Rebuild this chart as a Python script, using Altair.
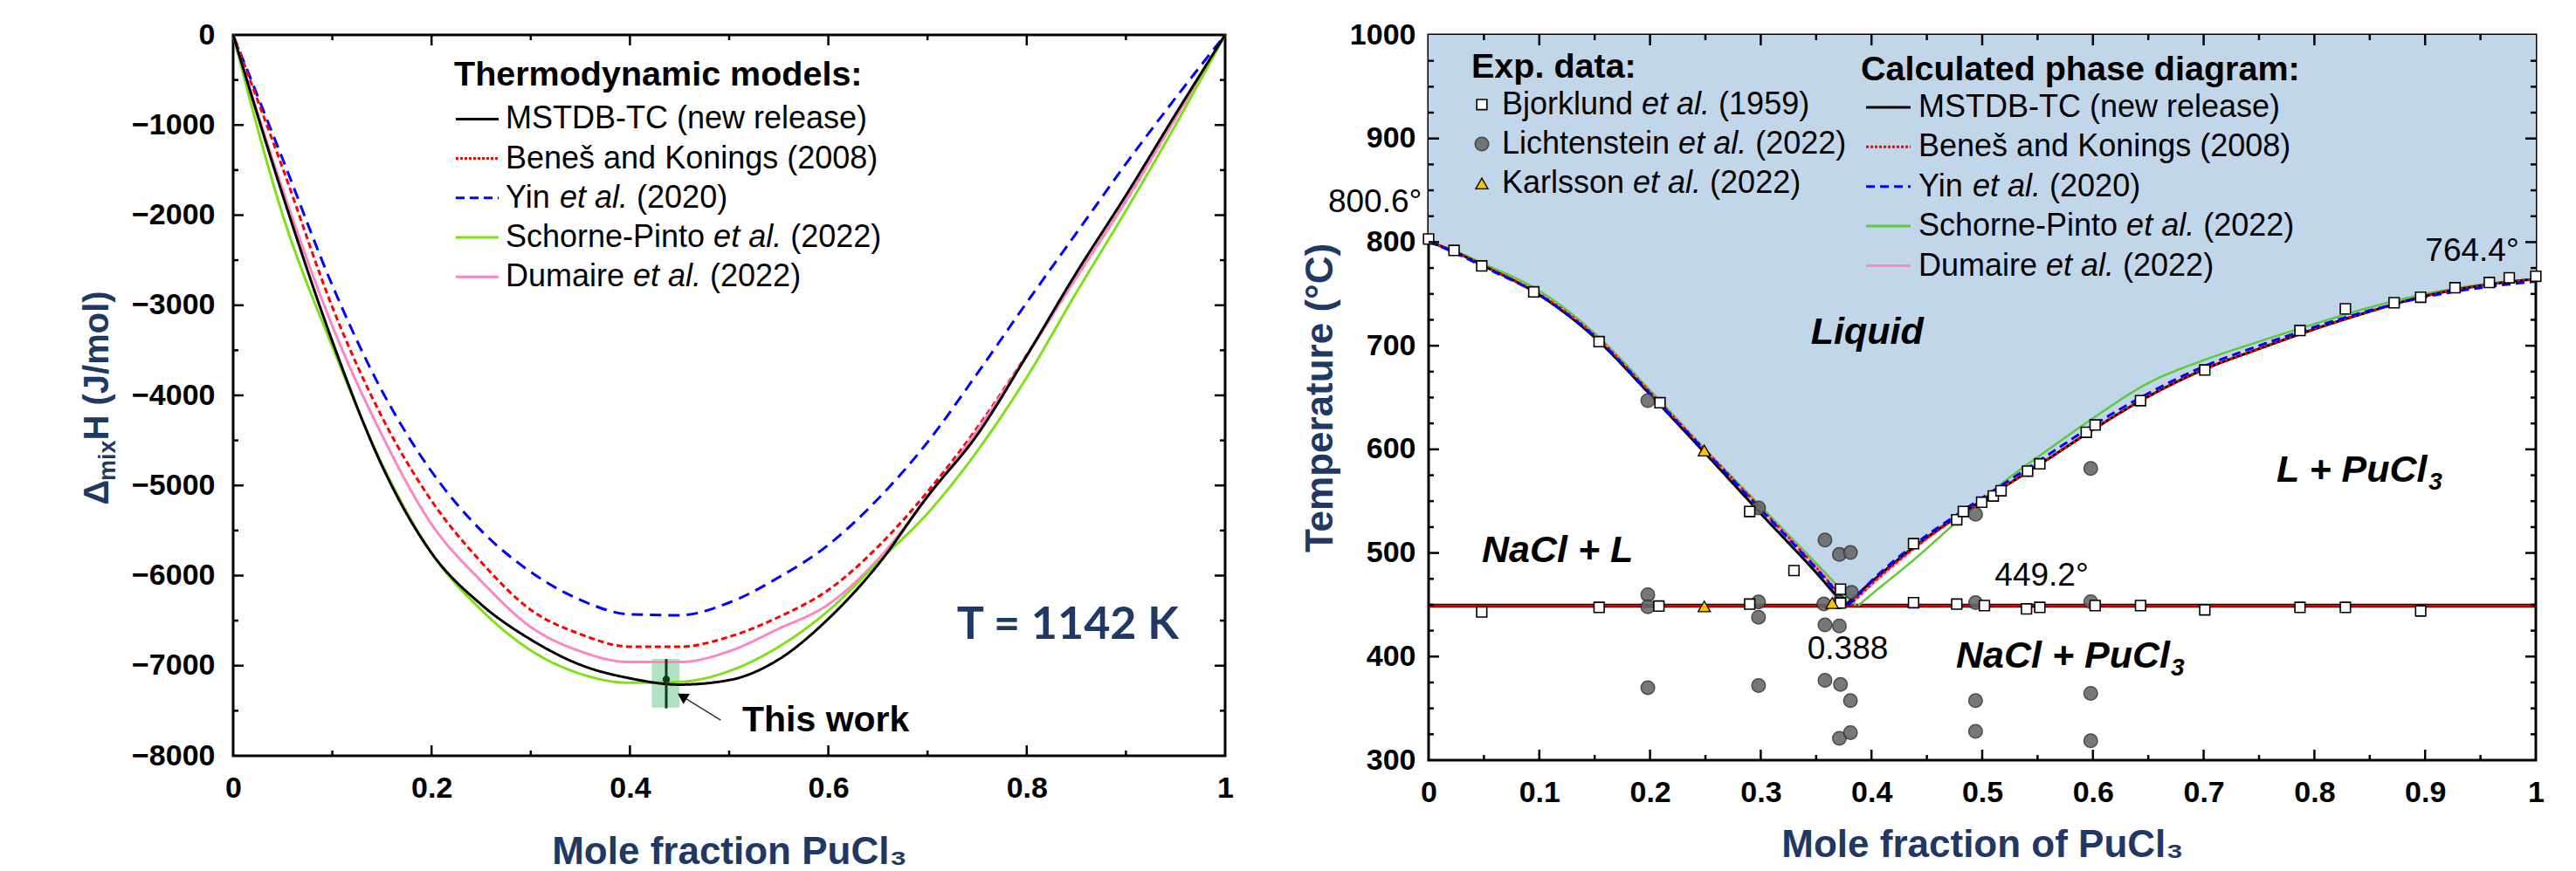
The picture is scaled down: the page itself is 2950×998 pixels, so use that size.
import math
import altair as alt
import pandas as pd

FONT = "Liberation Sans"
NAVY = "#1F3864"

# ======================= LEFT PANEL DATA (J/mol, T = 1142 K) =======================
x_mix = [0, 0.05, 0.1, 0.15, 0.2, 0.25, 0.3, 0.35, 0.4, 0.45, 0.5,
         0.55, 0.6, 0.65, 0.7, 0.75, 0.8, 0.85, 0.9, 0.95, 1.0]
h_mstdb = [0, -1780, -3400, -4780, -5750, -6320, -6710, -6990, -7140, -7210, -7160,
           -6930, -6480, -5880, -5120, -4440, -3560, -2640, -1780, -880, 0]
h_benes = [0, -1480, -3020, -4240, -5170, -5850, -6380, -6650, -6790, -6790, -6680,
           -6460, -6160, -5680, -5070, -4360, -3550, -2690, -1840, -920, 0]
h_yin = [0, -1380, -2780, -3950, -4845, -5500, -5960, -6270, -6430, -6440, -6300,
         -6020, -5660, -5150, -4520, -3760, -2970, -2200, -1430, -700, 0]
h_schorne = [0, -2000, -3460, -4760, -5750, -6380, -6830, -7090, -7190, -7180, -7060,
             -6790, -6390, -5850, -5310, -4620, -3800, -2860, -1950, -1000, 0]
h_dumaire = [0, -1720, -3230, -4440, -5430, -6060, -6570, -6840, -6960, -6960, -6840,
             -6590, -6320, -5820, -5130, -4390, -3560, -2690, -1840, -920, 0]

# "This work" measurement
tw_x = [0.4366]
tw_h = [-7152]
tw_err_lo = [-7474]
tw_err_hi = [-6926]
tw_band_x = [0.422, 0.450]
tw_band_h = [-7465, -6926]
arrow_tail = [0.4915, -7604]
arrow_tip = [0.4474, -7304]

# ======================= RIGHT PANEL DATA (phase diagram, deg C) =======================
eutectic_T = 449.2
liq_nacl_x = {
    "mstdb":   [0, 0.025, 0.05, 0.1, 0.15, 0.2, 0.25, 0.3, 0.35, 0.376],
    "benes":   [0, 0.025, 0.05, 0.1, 0.15, 0.2, 0.25, 0.3, 0.35, 0.380],
    "yin":     [0, 0.025, 0.05, 0.1, 0.15, 0.2, 0.25, 0.3, 0.35, 0.379],
    "schorne": [0, 0.025, 0.05, 0.1, 0.15, 0.2, 0.25, 0.3, 0.35, 0.386],
    "dumaire": [0, 0.025, 0.05, 0.1, 0.15, 0.2, 0.25, 0.3, 0.35, 0.380],
}
liq_nacl_t = {
    "mstdb":   [800.6, 790, 777, 749, 708, 653, 596, 538, 481, 449.2],
    "benes":   [800.6, 790, 777, 750, 710, 655, 599, 543, 486, 449.2],
    "yin":     [800.6, 789, 776, 749, 709, 654, 598, 542, 485, 449.2],
    "schorne": [800.6, 791, 779, 753, 712, 657, 600, 545, 490, 449.2],
    "dumaire": [800.6, 790, 777, 750, 710, 655, 599, 543, 487, 449.2],
}
liq_pu_x = {
    "mstdb":   [0.376, 0.40, 0.44, 0.48, 0.52, 0.56, 0.60, 0.65, 0.70, 0.75, 0.80, 0.85, 0.90, 0.95, 1.0],
    "benes":   [0.380, 0.40, 0.44, 0.48, 0.52, 0.56, 0.60, 0.65, 0.70, 0.75, 0.80, 0.85, 0.90, 0.95, 1.0],
    "yin":     [0.379, 0.40, 0.44, 0.48, 0.52, 0.56, 0.60, 0.65, 0.70, 0.75, 0.80, 0.85, 0.90, 0.95, 1.0],
    "schorne": [0.388, 0.40, 0.44, 0.48, 0.52, 0.56, 0.60, 0.65, 0.70, 0.75, 0.80, 0.85, 0.90, 0.95, 1.0],
    "dumaire": [0.380, 0.40, 0.44, 0.48, 0.52, 0.56, 0.60, 0.65, 0.70, 0.75, 0.80, 0.85, 0.90, 0.95, 1.0],
}
liq_pu_t = {
    "mstdb":   [449.2, 472, 507, 537, 564, 591, 619, 651, 677, 697, 716, 733, 748, 758, 764.4],
    "benes":   [449.2, 470, 506, 537, 564, 591, 619, 651, 677, 697, 716, 733, 748, 758, 764.4],
    "yin":     [449.2, 473, 509, 539, 567, 595, 623, 654, 680, 700, 718, 734, 747, 756, 762.0],
    "schorne": [449.2, 460, 495, 533, 569, 600, 630, 664, 686, 704, 721, 737, 750, 759, 764.4],
    "dumaire": [449.2, 469, 505, 536, 564, 591, 619, 651, 677, 697, 716, 733, 748, 758, 764.4],
}

# Bjorklund et al. (1959)
bj_x = [0.0, 0.023, 0.048, 0.095, 0.154, 0.209, 0.290, 0.330, 0.372, 0.048, 0.154, 0.208, 0.290,
        0.372, 0.438, 0.438, 0.477, 0.477, 0.483, 0.4995, 0.502, 0.510, 0.517, 0.540, 0.541, 0.552,
        0.552, 0.594, 0.602, 0.602, 0.643, 0.643, 0.701, 0.701, 0.787, 0.787, 0.828, 0.828, 0.872,
        0.896, 0.896, 0.927, 0.958, 0.976, 1.0]
bj_t = [803, 792, 777, 752, 704, 645, 540, 483, 465, 443, 447.5, 448.7, 450.6,
        451.7, 509, 452, 532, 450.6, 540, 549, 449.2, 555, 560, 446, 579, 586,
        447.5, 616.5, 623.5, 449.2, 647, 449.2, 676.6, 445, 714.7, 447.5, 735.6, 447.5, 741.5,
        746.8, 444, 756, 761, 765.6, 767]
# Lichtenstein et al. (2022)
li_x = [0.198, 0.198, 0.198, 0.198, 0.298, 0.298, 0.298, 0.298, 0.358, 0.371, 0.381, 0.382,
        0.357, 0.371, 0.358, 0.371, 0.358, 0.372, 0.381, 0.371, 0.381, 0.494, 0.494, 0.494,
        0.494, 0.598, 0.598, 0.598, 0.598]
li_t = [647, 459.7, 448, 370, 543.4, 452.6, 438, 372, 512.5, 498.5, 500.4, 462,
        450.7, 452.6, 430.5, 429.6, 377, 373, 357.4, 321, 326.6, 537.3, 452, 357.4,
        327.7, 581.6, 452.9, 364.4, 318.8]
# Karlsson et al. (2022)
ka_x = [0.249, 0.249, 0.3645]
ka_t = [598.8, 448.4, 451.7]

# ======================= TEXT =======================
model_keys = ["mstdb", "benes", "yin", "schorne", "dumaire"]
model_label_segments = [
    [("MSTDB-TC (new release)", False)],
    [("Beneš and Konings (2008)", False)],
    [("Yin ", False), ("et al.", True), (" (2020)", False)],
    [("Schorne-Pinto ", False), ("et al.", True), (" (2022)", False)],
    [("Dumaire ", False), ("et al.", True), (" (2022)", False)],
]
exp_label_segments = [
    [("Bjorklund ", False), ("et al.", True), (" (1959)", False)],
    [("Lichtenstein ", False), ("et al.", True), (" (2022)", False)],
    [("Karlsson ", False), ("et al.", True), (" (2022)", False)],
]

# styles
COL = {"mstdb": "#000000", "benes": "#FF0000", "yin": "#0000FF", "schorne": "#7FE01A", "dumaire": "#FF85C2"}
COL_R = {"mstdb": "#000000", "benes": "#FF0000", "yin": "#0000FF", "schorne": "#5CCB3A", "dumaire": "#FF85C2"}
DASH_L = {"mstdb": [1, 0], "benes": [7, 4], "yin": [13, 8], "schorne": [1, 0], "dumaire": [1, 0]}
DASH_R = {"mstdb": [1, 0], "benes": [3, 3], "yin": [10, 6], "schorne": [1, 0], "dumaire": [1, 0]}
DASH_LEG = {"mstdb": [1, 0], "benes": [3, 2], "yin": [10, 6], "schorne": [1, 0], "dumaire": [1, 0]}

# ---------- Arial / Liberation Sans advance widths (1/1000 em) ----------
W_REG = {" ": 278, "(": 333, ")": 333, "-": 333, ".": 278, ":": 278, "+": 584, "°": 400, "/": 278, "š": 500}
for ch in "0123456789":
    W_REG[ch] = 556
W_REG.update(dict(A=667, B=667, C=722, D=722, E=667, F=611, G=778, H=722, I=278, J=500, K=667, L=556, M=833,
                  N=722, O=778, P=667, Q=778, R=722, S=667, T=611, U=722, V=667, W=944, X=667, Y=667, Z=611))
W_REG.update(dict(a=556, b=556, c=500, d=556, e=556, f=278, g=556, h=556, i=222, j=222, k=500, l=222, m=833,
                  n=556, o=556, p=556, q=556, r=333, s=500, t=278, u=556, v=500, w=722, x=500, y=500, z=500))
W_BOLD = dict(W_REG)
W_BOLD.update(dict(A=722, B=722, J=556, K=722, L=611))
W_BOLD.update(dict(b=611, c=556, d=611, f=333, g=611, h=611, i=278, j=278, k=556, l=278, m=889, n=611, o=611,
                   p=611, q=611, r=389, s=556, t=333, u=611, v=556, w=778, x=556, y=556))
W_BOLD[":"] = 333
W_BOLD["Δ"] = 690


def tw(s, size, bold=False):
    tbl = W_BOLD if bold else W_REG
    return sum(tbl.get(c, 556) for c in s) * size / 1000.0


ONE = pd.DataFrame({"d": [0]})


def txt(px, py, s, size, weight="normal", style="normal", color="black", align="left",
        baseline="middle", angle=0, font=FONT):
    mk = dict(text=s, font=font, fontSize=size, fontWeight=weight, fontStyle=style, color=color,
              align=align, baseline=baseline)
    if angle:
        mk["angle"] = angle
    return alt.Chart(ONE).mark_text(**mk).encode(x=alt.value(px), y=alt.value(py))


def rich(segments, x0, y, size, bold=False):
    layers = []
    off = 0.0
    for s, it in segments:
        lead = len(s) - len(s.lstrip())
        xs = x0 + off + tw(s[:lead], size, bold)
        layers.append(txt(xs, y, s.strip(), size, style="italic" if it else "normal"))
        off += tw(s, size, bold)
    return layers


def legend_lines(keys, colors, dashes, x1, x2, y0, dy, width=3):
    layers = []
    for i, k in enumerate(keys):
        y = y0 + i * dy
        layers.append(alt.Chart(ONE).mark_rule(color=colors[k], strokeWidth=width, strokeDash=dashes[k]).encode(
            x=alt.value(x1), x2=alt.value(x2), y=alt.value(y)))
    return layers


def tick_layers(X, Y, x_major, x_minor, y_major, y_minor, W, H, big=12, small=6):
    layers = []
    for vals, ln in ((x_major, big), (x_minor, small)):
        df = pd.DataFrame({"v": vals})
        for a, b in ((H, H - ln), (0, ln)):
            layers.append(alt.Chart(df).mark_rule(color="black", strokeWidth=2.5).encode(
                x=X("v:Q"), y=alt.value(a), y2=alt.value(b)))
    for vals, ln in ((y_major, big), (y_minor, small)):
        df = pd.DataFrame({"v": vals})
        for a, b in ((0, ln), (W, W - ln)):
            layers.append(alt.Chart(df).mark_rule(color="black", strokeWidth=2.5).encode(
                y=Y("v:Q"), x=alt.value(a), x2=alt.value(b)))
    return layers


# ======================= LEFT PANEL =======================
LW, LH = 1136, 826
LX0, LY0 = 270, 36
xs_L = alt.Scale(domain=[0, 1], nice=False, zero=False)
ys_L = alt.Scale(domain=[-8000, 0], nice=False, zero=False)
AX_LX = alt.Axis(values=[0, 0.2, 0.4, 0.6, 0.8, 1], format="~g", title="Mole fraction PuCl₃",
                 labelPadding=20, titlePadding=34, labelFlush=False)
AX_LY = alt.Axis(values=list(range(-8000, 1, 1000)), format="d", title=None, labelPadding=21, labelFlush=False)


def LXc(f):
    return alt.X(f, scale=xs_L, axis=AX_LX)


def LYc(f):
    return alt.Y(f, scale=ys_L, axis=AX_LY)


band_df = pd.DataFrame({"x0": [tw_band_x[0]], "x1": [tw_band_x[1]], "y0": [tw_band_h[0]], "y1": [tw_band_h[1]]})
band = alt.Chart(band_df).mark_rect(color="#8ED6A8", opacity=0.7).encode(
    x=LXc("x0:Q"), x2="x1:Q", y=LYc("y0:Q"), y2="y1:Q")

mix_df = pd.DataFrame({"x": x_mix, "mstdb": h_mstdb, "benes": h_benes, "yin": h_yin,
                       "schorne": h_schorne, "dumaire": h_dumaire})
left_lines = []
for k in ["yin", "benes", "dumaire", "schorne", "mstdb"]:
    left_lines.append(alt.Chart(mix_df).mark_line(color=COL[k], strokeWidth=3, strokeDash=DASH_L[k],
                                                  interpolate="monotone").encode(
        x=LXc("x:Q"), y=LYc(f"{k}:Q")))

err_df = pd.DataFrame({"x": tw_x, "lo": tw_err_lo, "hi": tw_err_hi, "h": tw_h})
err = alt.Chart(err_df).mark_rule(color="#123a1f", strokeWidth=3).encode(
    x=LXc("x:Q"), y=LYc("lo:Q"), y2="hi:Q")
errpt = alt.Chart(err_df).mark_point(filled=True, color="#123a1f", size=70, opacity=1).encode(
    x=LXc("x:Q"), y=LYc("h:Q"))

# arrow pointing at "This work"
ddx = (arrow_tip[0] - arrow_tail[0]) * LW
ddy = -(arrow_tip[1] - arrow_tail[1]) / 8000 * LH
dist = (ddx ** 2 + ddy ** 2) ** 0.5
ux, uy = ddx / dist, ddy / dist
back = 7.0
head_x = arrow_tip[0] - back * ux / LW
head_h = arrow_tip[1] + back * uy * 8000 / LH
ang = math.degrees(math.atan2(ux, -uy)) % 360
arr_df = pd.DataFrame({"x": [arrow_tail[0]], "x2": [head_x], "h": [arrow_tail[1]], "h2": [head_h]})
arrow_line = alt.Chart(arr_df).mark_rule(color="#333333", strokeWidth=1.5).encode(
    x=LXc("x:Q"), x2="x2:Q", y=LYc("h:Q"), y2="h2:Q")
arrow_head = alt.Chart(arr_df).mark_point(shape="triangle-up", filled=True, color="black", size=190,
                                          opacity=1, angle=ang).encode(
    x=LXc("x2:Q"), y=LYc("h2:Q"))

this_work_txt = txt(853 - LX0, 821.7 - LY0, "This work", 41, weight="bold")
tk_txt = txt(1225.8 - LX0, 711.7 - LY0, "T = 1142 K", 52, weight="bold", color=NAVY, align="center", font="Lato")

# legend (left)
L_FS = 36
LT_FS = 39.5
leg_L = [txt(523 - LX0, 81.5 - LY0, "Thermodynamic models:", LT_FS, weight="bold")]
leg_L += legend_lines(model_keys, COL, DASH_LEG, 525 - LX0, 574 - LX0, 132.4 - LY0, 45.2)
for i, segs in enumerate(model_label_segments):
    leg_L += rich(segs, 582 - LX0, 132.4 - LY0 + i * 45.2, L_FS)

# y-axis title with subscript (rotated text pieces)
YT = 40
ysub = 27
title_len = tw("Δ", YT, True) + tw("mix", ysub, True) + tw("H (J/mol)", YT, True)
y_start = 452 + title_len / 2 - LY0
xb = 127 - LX0
ytitle = [
    txt(xb, y_start, "Δ", YT, weight="bold", color=NAVY, baseline="alphabetic", angle=270),
    txt(xb + 8, y_start - tw("Δ", YT, True), "mix", ysub, weight="bold", color=NAVY,
        baseline="alphabetic", angle=270),
    txt(xb, y_start - tw("Δ", YT, True) - tw("mix", ysub, True), "H (J/mol)", YT, weight="bold",
        color=NAVY, baseline="alphabetic", angle=270),
]

ticks_L = tick_layers(LXc, LYc, [0.2, 0.4, 0.6, 0.8], [0.1, 0.3, 0.5, 0.7, 0.9],
                      list(range(-7000, 0, 1000)), list(range(-7500, 0, 1000)), LW, LH)

left = alt.layer(band, *left_lines, err, errpt, arrow_line, arrow_head, this_work_txt, tk_txt,
                 *leg_L, *ytitle, *ticks_L).properties(width=LW, height=LH)

# ======================= RIGHT PANEL =======================
RW, RH = 1268, 831
RX0, RY0 = 1635, 38
xs_R = alt.Scale(domain=[0, 1], nice=False, zero=False)
ys_R = alt.Scale(domain=[300, 1000], nice=False, zero=False)
AX_RX = alt.Axis(values=[0, 0.1, 0.2, 0.3, 0.4, 0.5, 0.6, 0.7, 0.8, 0.9, 1], format="~g",
                 title="Mole fraction of PuCl₃", labelPadding=20, titlePadding=21, labelFlush=False)
AX_RY = alt.Axis(values=list(range(300, 1001, 100)), format="d", title="Temperature (°C)",
                 labelPadding=15, titlePadding=11, labelFlush=False)


def RXc(f):
    return alt.X(f, scale=xs_R, axis=AX_RX)


def RYc(f):
    return alt.Y(f, scale=ys_R, axis=AX_RY)


liq_df = pd.DataFrame({"X": liq_nacl_x["mstdb"] + liq_pu_x["mstdb"][1:],
                       "T": liq_nacl_t["mstdb"] + liq_pu_t["mstdb"][1:]})
liquid = alt.Chart(liq_df).mark_area(color="#C2D6EA", opacity=1, interpolate="monotone").encode(
    x=RXc("X:Q"), y=RYc("T:Q"), y2=alt.datum(1000))

eut_df = pd.DataFrame({"X": [0, 1], "T": [eutectic_T, eutectic_T]})
eut_black = alt.Chart(eut_df).mark_line(color="#000000", strokeWidth=4.5).encode(x=RXc("X:Q"), y=RYc("T:Q"))
eut_red = alt.Chart(eut_df).mark_line(color="#E00000", strokeWidth=2.5).encode(x=RXc("X:Q"), y=RYc("T:Q"))

right_lines = []
for k in ["schorne", "dumaire", "mstdb", "benes", "yin"]:
    for xx, tt in ((liq_nacl_x[k], liq_nacl_t[k]), (liq_pu_x[k], liq_pu_t[k])):
        d = pd.DataFrame({"X": xx, "T": tt})
        right_lines.append(alt.Chart(d).mark_line(
            color=COL_R[k], strokeWidth=3 if k in ("mstdb", "benes", "yin") else 2.5,
            strokeDash=DASH_R[k], interpolate="monotone").encode(x=RXc("X:Q"), y=RYc("T:Q")))

li_df = pd.DataFrame({"X": li_x, "T": li_t})
bj_df = pd.DataFrame({"X": bj_x, "T": bj_t})
ka_df = pd.DataFrame({"X": ka_x, "T": ka_t})
CIRC = dict(shape="circle", filled=True, color="#666666", stroke="#333333", strokeWidth=1.5, size=240, opacity=0.88)
SQR = dict(shape="square", filled=True, color="white", stroke="black", strokeWidth=1.6, size=135, opacity=1)
TRI = dict(shape="triangle-up", filled=True, color="#FFC000", stroke="black", strokeWidth=1.3, size=200, opacity=1)
pts = []
for df_p, st in ((li_df, CIRC), (bj_df, SQR), (ka_df, TRI)):
    pts.append(alt.Chart(df_p).mark_point(**st).encode(x=RXc("X:Q"), y=RYc("T:Q")))

# legends (right)
leg_R = [txt(1684 - RX0, 75 - RY0, "Exp. data:", LT_FS, weight="bold")]
for i, st in enumerate([SQR, CIRC, TRI]):
    leg_R.append(alt.Chart(ONE).mark_point(**st).encode(
        x=alt.value(1696 - RX0), y=alt.value(117.8 - RY0 + i * 45.2)))
for i, segs in enumerate(exp_label_segments):
    leg_R += rich(segs, 1719 - RX0, 117.8 - RY0 + i * 45.2, L_FS)
leg_R.append(txt(2130 - RX0, 77.7 - RY0, "Calculated phase diagram:", LT_FS, weight="bold"))
leg_R += legend_lines(model_keys, COL_R, DASH_LEG, 2136 - RX0, 2187 - RX0, 120.9 - RY0, 45.4)
for i, segs in enumerate(model_label_segments):
    leg_R += rich(segs, 2196 - RX0, 120.9 - RY0 + i * 45.4, L_FS)

# region labels (page coordinates of the text baseline, converted to plot coordinates)
RF = 43
SF = 28
region_specs = [(2072.7, 392.2, "Liquid", None), (1696, 642.4, "NaCl + L", None),
                (2606, 550.1, "L + PuCl", "3"), (2239, 763.4, "NaCl + PuCl", "3")]
regions = []
for px, py, s, sub in region_specs:
    regions.append(txt(px - RX0, py - RY0, s, RF, weight="bold", style="italic", baseline="alphabetic"))
    if sub:
        regions.append(txt(px - RX0 + tw(s, RF, True) + 1, py - RY0 + 9, sub, SF, weight="bold",
                           style="italic", baseline="alphabetic"))
nums = [
    txt(1573.6 - RX0, 230.4 - RY0, "800.6°", 37, align="center"),
    txt(2830 - RX0, 286.4 - RY0, "764.4°", 37, align="center"),
    txt(2337 - RX0, 657.5 - RY0, "449.2°", 37, align="center"),
    txt(2115 - RX0, 741.5 - RY0, "0.388", 37, align="center"),
]

ticks_R = tick_layers(RXc, RYc, [0.1, 0.2, 0.3, 0.4, 0.5, 0.6, 0.7, 0.8, 0.9],
                      [0.05, 0.15, 0.25, 0.35, 0.45, 0.55, 0.65, 0.75, 0.85, 0.95],
                      list(range(400, 1000, 100)), [v for v in range(325, 1000, 25) if v % 100 != 0], RW, RH)

right = alt.layer(liquid, eut_black, eut_red, *right_lines, *pts, *leg_R, *regions, *nums,
                  *ticks_R).properties(width=RW, height=RH)

chart = alt.hconcat(left, right, spacing=74).properties(
    padding={"left": 82, "top": 13, "right": 5, "bottom": 5}
).configure_view(stroke="black", strokeWidth=3).configure_axis(
    labelFont=FONT, labelFontWeight="bold", labelFontSize=34, labelColor="black",
    titleFont=FONT, titleFontWeight="bold", titleFontSize=44, titleColor=NAVY,
    ticks=False, tickSize=0, domain=False, grid=False)

chart.save("out.html", embed_options={"renderer": "svg", "actions": False})
